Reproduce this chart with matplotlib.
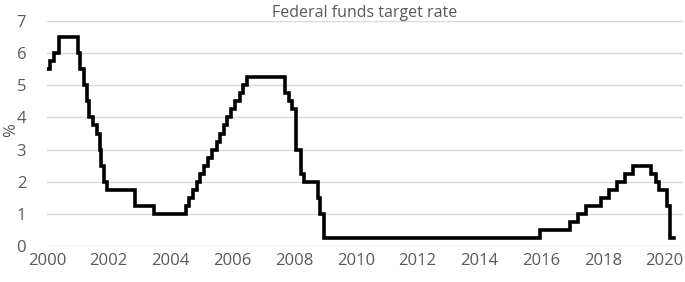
import numpy as np
import pandas as pd
import matplotlib
matplotlib.use("Agg")
import matplotlib.pyplot as plt

# change dates of the fed funds target (upper bound) and the new rate
change_dates = ["2000-01-01", "2000-02-02", "2000-03-21", "2000-05-16",
                "2001-01-03", "2001-01-31", "2001-03-20", "2001-04-18",
                "2001-05-15", "2001-06-27", "2001-08-21", "2001-09-17",
                "2001-10-02", "2001-11-06", "2001-12-11", "2002-11-06",
                "2003-06-25", "2004-06-30", "2004-08-10", "2004-09-21",
                "2004-11-10", "2004-12-14", "2005-02-02", "2005-03-22",
                "2005-05-03", "2005-06-30", "2005-08-09", "2005-09-20",
                "2005-11-01", "2005-12-13", "2006-01-31", "2006-03-28",
                "2006-05-10", "2006-06-29", "2007-09-18", "2007-10-31",
                "2007-12-11", "2008-01-22", "2008-01-30", "2008-03-18",
                "2008-04-30", "2008-10-08", "2008-10-29", "2008-12-16",
                "2015-12-16", "2016-12-14", "2017-03-15", "2017-06-14",
                "2017-12-13", "2018-03-21", "2018-06-13", "2018-09-26",
                "2018-12-19", "2019-07-31", "2019-09-18", "2019-10-30",
                "2020-01-29", "2020-03-03", "2020-04-20"]
rates = [5.50, 5.75, 6.00, 6.50,
         6.00, 5.50, 5.00, 4.50,
         4.00, 3.75, 3.50, 3.00,
         2.50, 2.00, 1.75, 1.25,
         1.00, 1.25, 1.50, 1.75,
         2.00, 2.25, 2.50, 2.75,
         3.00, 3.25, 3.50, 3.75,
         4.00, 4.25, 4.50, 4.75,
         5.00, 5.25, 4.75, 4.50,
         4.25, 3.50, 3.00, 2.25,
         2.00, 1.50, 1.00, 0.25,
         0.50, 0.75, 1.00, 1.25,
         1.50, 1.75, 2.00, 2.25,
         2.50, 2.25, 2.00, 1.75,
         1.25, 0.25, 0.25]
year_ticks = list(range(2000, 2021, 2))
y_ticks = list(range(0, 8))

d = pd.to_datetime(change_dates)
x = d.year + (d.dayofyear - 1) / 365.0

plt.rcParams['font.family'] = ['Open Sans', 'DejaVu Sans']
grey = '#595959'

fig = plt.figure(figsize=(6.85, 2.82), dpi=100)
ax = fig.add_axes([47/685, 1 - 246/282, 636/685, 225/282])

ax.plot(x, rates, drawstyle='steps-post', color='black', lw=2.6,
        solid_joinstyle='miter')

ax.set_xlim(2000, 2020.6)
ax.set_ylim(0, 7)
ax.set_xticks(year_ticks)
ax.set_yticks(y_ticks)
ax.grid(axis='y', color='#d9d9d9', lw=1)
ax.set_axisbelow(True)
for s in ax.spines.values():
    s.set_visible(False)
ax.tick_params(length=0, labelsize=12, colors=grey, pad=5)
ax.tick_params(axis='y', pad=15)
fig.text(11/685, 1 - 130/282, '%', rotation=90, color=grey, fontsize=12,
         ha='center', va='center')
ax.set_title('Federal funds target rate', color=grey, fontsize=11.5, pad=2)

fig.savefig('out.png', dpi=100)
